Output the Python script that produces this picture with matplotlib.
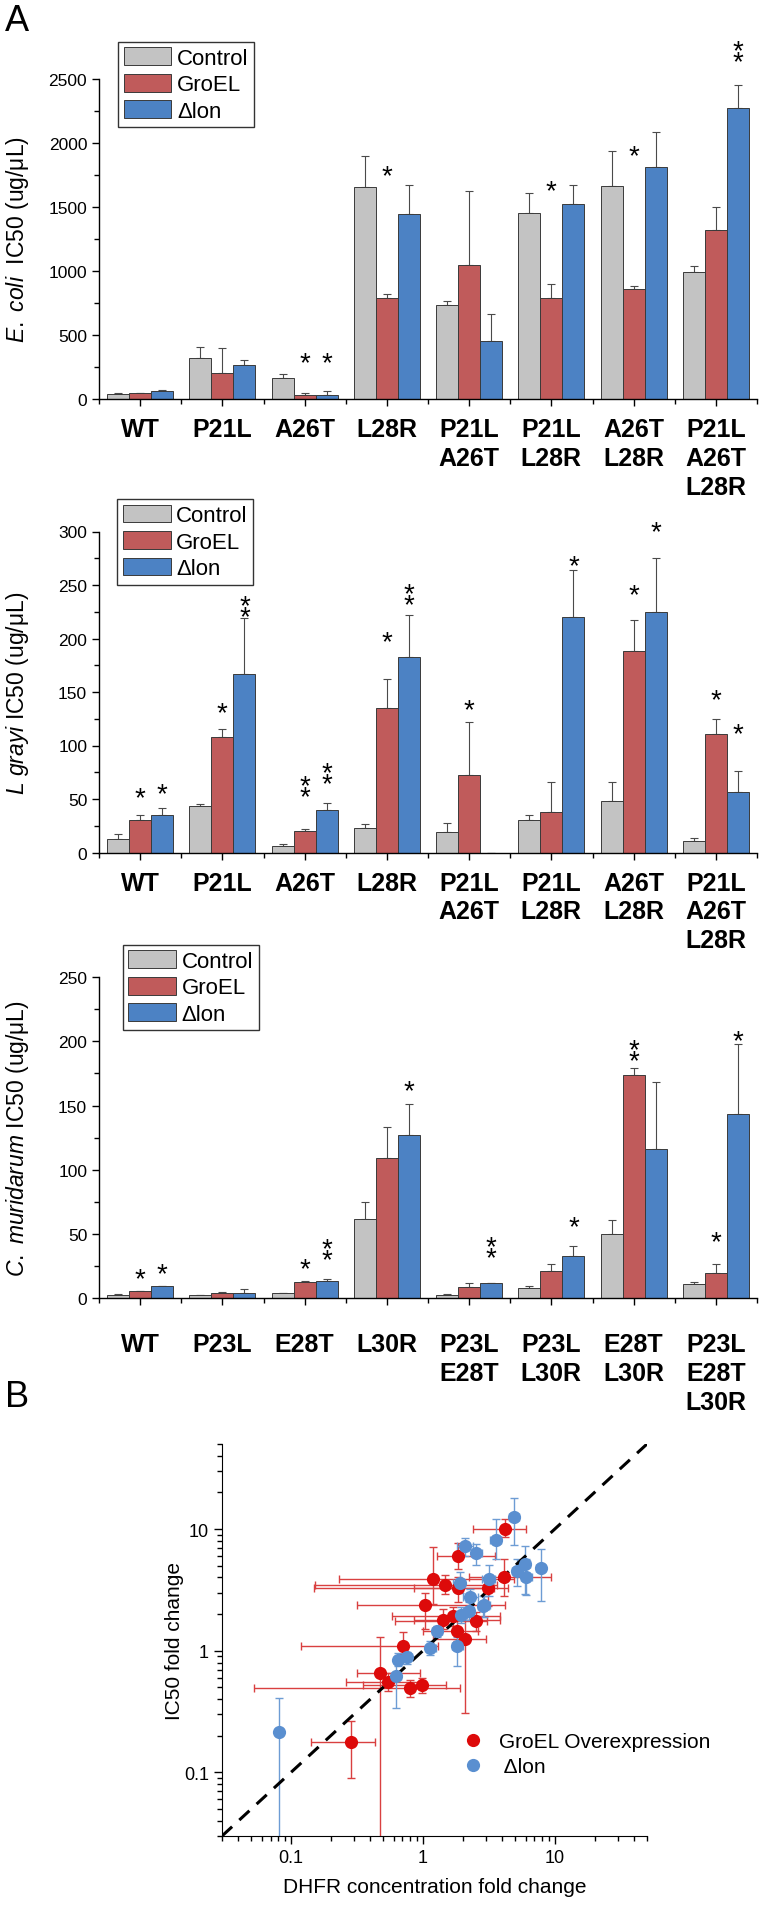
import numpy as np
import matplotlib
matplotlib.use("Agg")
import matplotlib.pyplot as plt
from matplotlib.lines import Line2D
from matplotlib.ticker import MultipleLocator

plt.rcParams["font.family"] = ["Liberation Sans", "DejaVu Sans"]
plt.rcParams["mathtext.fontset"] = "custom"
plt.rcParams["mathtext.rm"] = "Liberation Sans"
plt.rcParams["mathtext.it"] = "Liberation Sans:italic"

# ---- panel A data (bar value, top of error bar) ----
ecoli_labels = ["WT", "P21L", "A26T", "L28R", "P21L\nA26T", "P21L\nL28R", "A26T\nL28R", "P21L\nA26T\nL28R"]
ecoli_ctrl = [39, 318, 164, 1654, 732, 1453, 1664, 995]
ecoli_ctrl_top = [47, 409, 195, 1898, 763, 1607, 1938, 1039]
ecoli_groel = [44, 203, 31, 786, 1044, 792, 857, 1320]
ecoli_groel_top = [48, 400, 44, 820, 1628, 898, 885, 1503]
ecoli_lon = [62, 265, 34, 1448, 450, 1521, 1812, 2276]
ecoli_lon_top = [73, 307, 65, 1675, 661, 1675, 2083, 2453]
# (group, series, y, number of stars)
ecoli_stars = [(2, 1, 352, 1), (2, 2, 352, 1), (3, 1, 1812, 1), (5, 1, 1697, 1),
               (6, 1, 1965, 1), (7, 2, 2746, 2)]

grayi_ctrl = [13, 43, 6.5, 22.5, 18.7, 30.5, 47.7, 11]
grayi_ctrl_top = [17, 45, 7.5, 27, 28, 35, 66, 14]
grayi_groel = [30, 108, 20, 135, 72, 38, 188, 111]
grayi_groel_top = [35, 115, 21.5, 162, 122, 66, 217, 125]
grayi_lon = [35, 166.5, 40, 183, 0, 220, 224.5, 56.7]
grayi_lon_top = [42, 219.5, 46, 222, 0, 264, 275, 76]
grayi_stars = [(0, 1, 59, 1), (0, 2, 63, 1), (1, 1, 139, 1), (1, 2, 233.5, 2),
               (2, 1, 65.5, 2), (2, 2, 77, 2), (3, 1, 205, 1), (3, 2, 245, 2),
               (4, 1, 141, 1), (5, 2, 276, 1), (6, 1, 249, 1), (6, 2, 308, 1),
               (7, 1, 150.6, 1), (7, 2, 119.4, 1)]

mur_labels = ["WT", "P23L", "E28T", "L30R", "P23L\nE28T", "P23L\nL30R", "E28T\nL30R", "P23L\nE28T\nL30R"]
mur_ctrl = [2.9, 2.3, 3.9, 61.6, 2.3, 8.3, 50.2, 11.4]
mur_ctrl_top = [3.4, 2.6, 4.4, 75, 3, 9.9, 60.6, 13]
mur_groel = [5.5, 4.4, 12.5, 109, 8.6, 21, 173.8, 20]
mur_groel_top = [6, 4.7, 13.3, 133, 11.7, 26.3, 179.5, 26.3]
mur_lon = [9.4, 4.4, 13.8, 127, 11.7, 33.3, 116.5, 143.6]
mur_lon_top = [9.4, 7, 14.8, 151, 11.7, 41, 168.6, 198]
mur_stars = [(0, 1, 22, 1), (0, 2, 25.5, 1), (2, 1, 29.4, 1), (2, 2, 40.7, 2),
             (3, 2, 168, 1), (4, 2, 42.6, 2), (5, 2, 62, 1), (6, 1, 196, 2),
             (7, 1, 51, 1), (7, 2, 207, 1)]

series_names = ["Control", "GroEL", "Δlon"]
bar_colors = ["#C3C3C3", "#C05B5B", "#4C82C4"]

# ---- panel B data: x, x low, x high, y, y low, y high ----
red_x = [4.2, 1.85, 1.2, 1.46, 4.15, 3.1, 1.83, 1.04, 1.43, 1.7, 2.54, 1.81, 2.09, 0.71, 0.47, 0.54, 0.80, 0.98, 0.284]
red_xlo = [2.4, 1.29, 0.23, 0.152, 2.22, 0.85, 0.15, 0.315, 0.85, 0.58, 0.62, 1.0, 1.2, 0.119, 0.315, 0.26, 0.052, 0.35, 0.142]
red_xhi = [6.0, 3.54, 4.87, 3.65, 9.3, 4.4, 3.44, 4.2, 3.87, 3.87, 3.06, 2.6, 3.0, 1.31, 0.95, 0.95, 1.9, 1.5, 0.43]
red_y = [10.1, 6.0, 3.9, 3.47, 4.0, 3.26, 3.3, 2.37, 1.8, 1.92, 1.76, 1.46, 1.26, 1.1, 0.66, 0.55, 0.49, 0.52, 0.179]
red_ylo = [8.6, 4.7, 2.4, 2.9, 2.83, 2.34, 2.5, 1.5, 1.5, 1.6, 1.45, 1.2, 0.31, 0.94, 0.01, 0.47, 0.42, 0.45, 0.090]
red_yhi = [12.0, 7.7, 7.1, 4.2, 5.7, 4.1, 4.0, 3.0, 2.2, 2.3, 2.1, 1.8, 2.0, 1.42, 1.3, 0.65, 0.57, 0.60, 0.266]

blue_x = [4.93, 2.1, 2.54, 3.56, 5.9, 7.8, 5.17, 6.1, 3.15, 1.9, 2.29, 2.92, 1.94, 2.22, 2.88, 1.14, 1.29, 1.81, 0.65, 0.76, 0.63, 0.081]
blue_xlo = [4.5, 1.8, 2.3, 3.2, 5.3, 7.2, 4.7, 5.5, 2.8, 1.7, 2.0, 2.6, 1.75, 2.0, 2.6, 1.05, 1.18, 1.65, 0.6, 0.7, 0.58, 0.081]
blue_xhi = [5.4, 2.4, 2.8, 3.9, 6.5, 8.4, 5.6, 6.7, 3.5, 2.1, 2.6, 3.2, 2.15, 2.45, 3.15, 1.25, 1.4, 2.0, 0.7, 0.82, 0.68, 0.081]
blue_y = [12.6, 7.2, 6.35, 8.2, 5.2, 4.75, 4.54, 4.03, 3.88, 3.58, 2.75, 2.37, 1.96, 2.13, 2.32, 1.05, 1.46, 1.10, 0.84, 0.88, 0.62, 0.214]
blue_ylo = [7.4, 6.0, 5.1, 5.7, 2.93, 2.57, 3.4, 2.87, 2.83, 3.0, 2.3, 1.9, 1.7, 1.8, 1.9, 0.92, 1.3, 0.75, 0.75, 0.78, 0.34, 0.01]
blue_yhi = [17.9, 8.4, 7.5, 12.1, 7.3, 6.9, 5.7, 5.7, 5.1, 4.4, 3.2, 2.8, 2.3, 2.5, 2.8, 1.2, 1.6, 1.3, 0.95, 0.98, 0.82, 0.41]

W, H = 760, 1906
fig = plt.figure(figsize=(W / 100, H / 100), dpi=100)


def px_axes(left, top, right, bottom):
    return fig.add_axes([left / W, 1 - bottom / H, (right - left) / W, (bottom - top) / H])


def bar_panel(ax, labels, vals, tops, stars, ymax, major, label_pad, legend_xy, ylabel, ylabel_y):
    x = np.arange(len(labels))
    width = 0.268
    offsets = [-width, 0, width]
    handles = []
    for s in range(3):
        v = np.array(vals[s], dtype=float)
        t = np.array(tops[s], dtype=float)
        b = ax.bar(x + offsets[s], v, width, color=bar_colors[s], edgecolor="#3a3a3a",
                   linewidth=0.7, zorder=2)
        handles.append(b)
        ax.errorbar(x + offsets[s], v, yerr=[np.zeros_like(v), t - v], fmt="none",
                    ecolor="#4a4a4a", elinewidth=0.8, capsize=3, capthick=0.8, zorder=1)
    for g, s, yv, n in stars:
        xs = g + offsets[s]
        shifts = [0] if n == 1 else [4.0, -4.0]
        for sh in shifts:
            ax.annotate("*", (xs, yv), xytext=(0, sh - 11.5), textcoords="offset points",
                        ha="center", va="baseline", fontsize=20, annotation_clip=False)
    ax.set_xlim(-0.5, len(labels) - 0.5)
    ax.set_ylim(0, ymax)
    ax.set_xticks(x)
    ax.set_xticks(np.arange(-0.5, len(labels) + 0.5, 1), minor=True)
    ax.yaxis.set_major_locator(MultipleLocator(major))
    ax.yaxis.set_minor_locator(MultipleLocator(major / 2))
    ax.tick_params(axis="both", which="major", direction="out", length=5, width=1)
    ax.tick_params(axis="both", which="minor", direction="out", length=3.5, width=1)
    ax.tick_params(axis="y", labelsize=12.5)
    ax.tick_params(axis="x", which="major", pad=label_pad)
    ax.set_xticklabels(labels, fontsize=18, fontweight="bold", linespacing=1.25)
    for sp in ["top", "right"]:
        ax.spines[sp].set_visible(False)
    for sp in ["left", "bottom"]:
        ax.spines[sp].set_linewidth(1)
    leg = ax.legend(handles, series_names, loc="upper left", bbox_to_anchor=legend_xy,
                    borderaxespad=0, fontsize=16, handlelength=2.15, handleheight=0.85,
                    labelspacing=0.22, borderpad=0.25, handletextpad=0.25,
                    fancybox=False, edgecolor="#333333", framealpha=1)
    leg.get_frame().set_linewidth(1)
    fig.text(18 / W, 1 - ylabel_y / H, ylabel, rotation=90, ha="center", va="center", fontsize=16.5)


ax1 = px_axes(99, 80, 757, 400)
bar_panel(ax1, ecoli_labels, [ecoli_ctrl, ecoli_groel, ecoli_lon],
          [ecoli_ctrl_top, ecoli_groel_top, ecoli_lon_top], ecoli_stars, 2500, 500, 8,
          (0.029, 1.116), r"$\mathit{E.\ coli}$  IC50 (ug/μL)", 240)

ax2 = px_axes(99, 532.5, 757, 853.5)
bar_panel(ax2, ecoli_labels, [grayi_ctrl, grayi_groel, grayi_lon],
          [grayi_ctrl_top, grayi_groel_top, grayi_lon_top], grayi_stars, 300, 50, 8,
          (0.028, 1.101), r"$\mathit{L\ grayi}$ IC50 (ug/μL)", 693)

ax3 = px_axes(99, 978, 757, 1299.3)
bar_panel(ax3, mur_labels, [mur_ctrl, mur_groel, mur_lon],
          [mur_ctrl_top, mur_groel_top, mur_lon_top], mur_stars, 250, 50, 19.5,
          (0.036, 1.10), r"$\mathit{C.\ muridarum}$ IC50 (ug/μL)", 1139)

# ---- panel B ----
axb = px_axes(222, 1445, 647, 1837)
red = "#DD0A0A"
blue = "#5A8FD0"
rx, ry = np.array(red_x), np.array(red_y)
bx, by = np.array(blue_x), np.array(blue_y)
axb.errorbar(rx, ry, xerr=[rx - np.array(red_xlo), np.array(red_xhi) - rx],
             yerr=[ry - np.array(red_ylo), np.array(red_yhi) - ry], fmt="none",
             ecolor="#D94040", elinewidth=1, capsize=3, capthick=1, zorder=2)
axb.errorbar(bx, by, xerr=[bx - np.array(blue_xlo), np.array(blue_xhi) - bx],
             yerr=[by - np.array(blue_ylo), np.array(blue_yhi) - by], fmt="none",
             ecolor="#6D9CD4", elinewidth=1, capsize=3, capthick=1, zorder=2)
axb.plot([0.03, 50], [0.03, 50], color="black", lw=2.2, ls=(0, (4.5, 3.2)), zorder=3)
axb.plot(rx, ry, "o", color=red, ms=9.5, mew=0, zorder=4)
axb.plot(bx, by, "o", color=blue, ms=9.5, mew=0, zorder=5)
axb.set_xscale("log")
axb.set_yscale("log")
axb.set_xlim(0.03, 50)
axb.set_ylim(0.03, 50)
axb.set_xticks([0.1, 1, 10])
axb.set_xticklabels(["0.1", "1", "10"])
axb.set_yticks([0.1, 1, 10])
axb.set_yticklabels(["0.1", "1", "10"])
axb.tick_params(axis="both", which="major", direction="out", length=6, width=1, labelsize=13)
axb.tick_params(axis="both", which="minor", direction="out", length=3.5, width=1)
for sp in ["top", "right"]:
    axb.spines[sp].set_visible(False)
axb.set_xlabel("DHFR concentration fold change", fontsize=15, labelpad=8)
axb.set_ylabel("IC50 fold change", fontsize=15, labelpad=0)
lh = [Line2D([], [], marker="o", ls="", color=red, ms=9.5, mew=0),
      Line2D([], [], marker="o", ls="", color=blue, ms=9.5, mew=0)]
axb.legend(lh, ["GroEL Overexpression", " Δlon"], loc="upper left",
           bbox_to_anchor=(0.565, 0.265), borderaxespad=0, frameon=False, fontsize=15,
           handlelength=1.0, handletextpad=0.75, labelspacing=0.3, borderpad=0)

fig.text(5 / W, 1 - 4 / H, "A", fontsize=26, ha="left", va="top")
fig.text(5 / W, 1 - 1380 / H, "B", fontsize=26, ha="left", va="top")

fig.savefig("out.png", dpi=100)
